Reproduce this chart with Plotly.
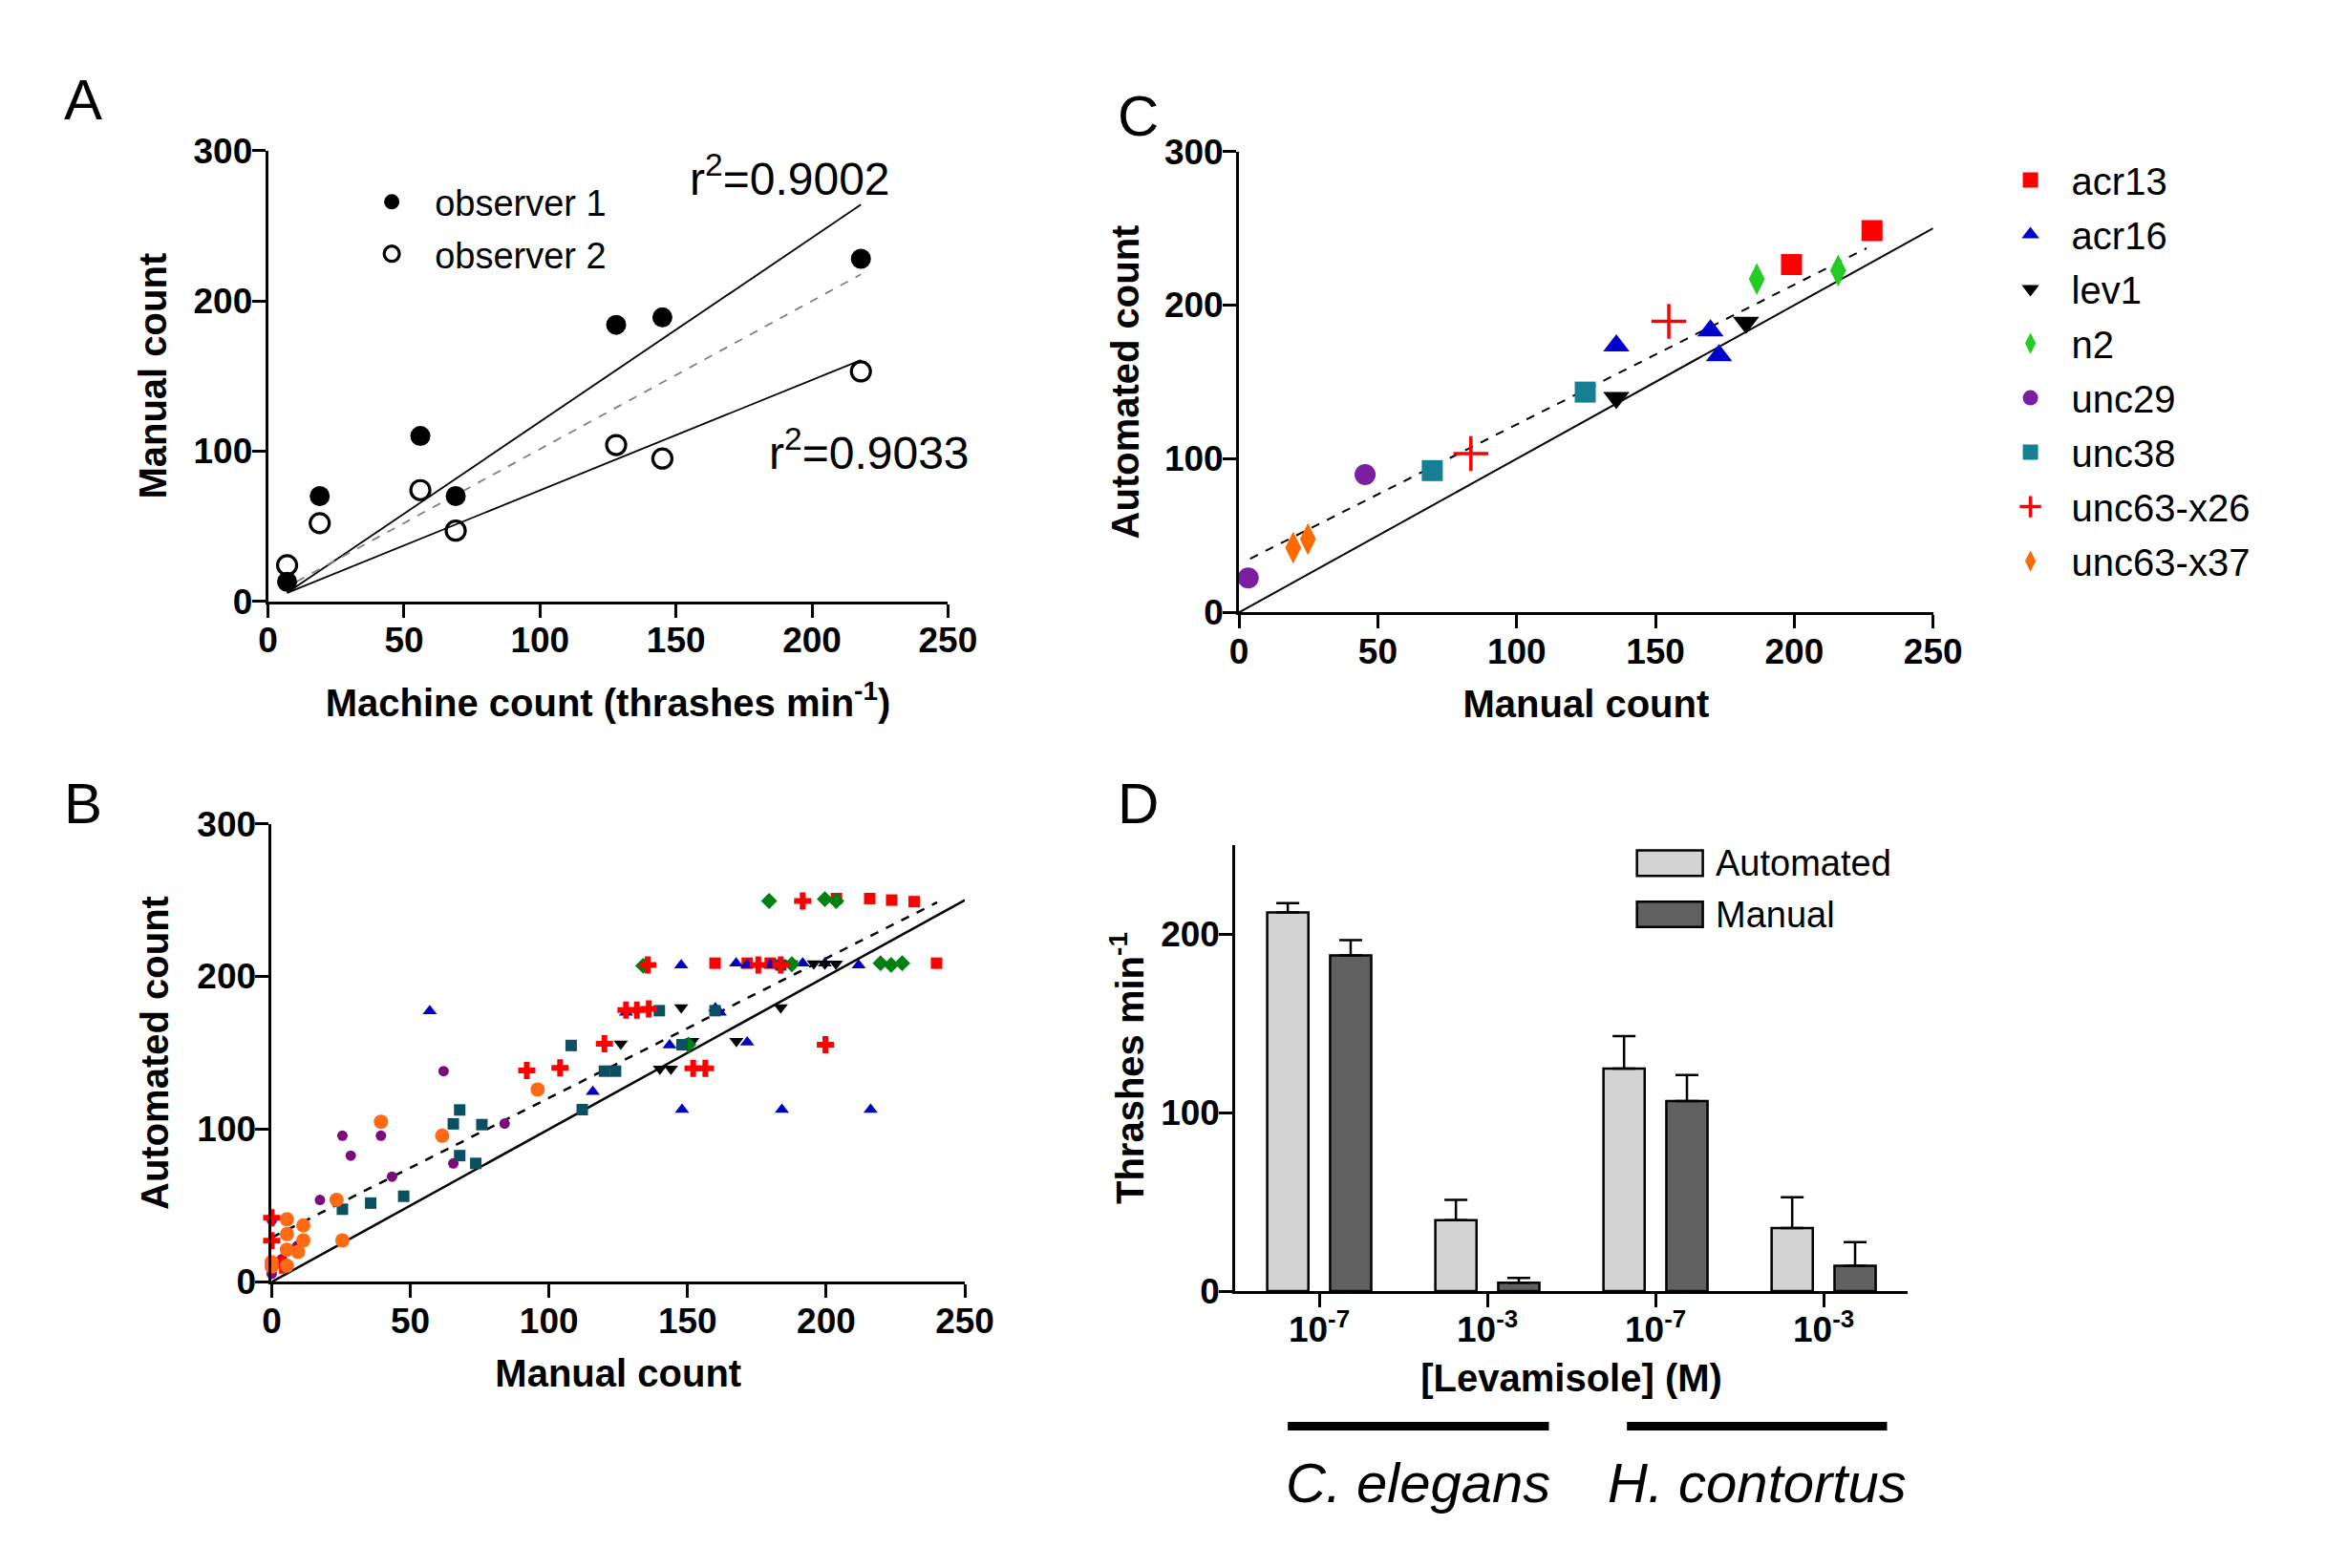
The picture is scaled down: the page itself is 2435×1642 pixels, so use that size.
import plotly.graph_objects as go

FONT = "Liberation Sans, Arial, sans-serif"

# ---- panel A: machine count vs manual count, two observers
machine = [7, 19, 56, 69, 128, 145, 218]
observer1 = [13, 70, 110, 70, 184, 189, 228]
observer2 = [24, 52, 74, 47, 104, 95, 153]
fit_x = [7, 218]
fit_obs1 = [5.6, 264]
fit_obs2 = [5.6, 160.5]
fit_mean_x = [5, 218]
fit_mean = [7.7, 217.6]

# ---- panel B: automated vs manual count, all worms
b_acr13_x = [203.7, 215.7, 223.6, 231.7, 159.9, 171.5, 179.8, 239.8]
b_acr13_y = [251, 251, 250, 249, 208.7, 208.7, 208.7, 208.7]
b_acr16_x = [57, 147.7, 167.5, 171.5, 179.8, 191.5, 199.5, 211.7, 127.8, 160, 161.6,
             143.5, 171.5, 115.8, 148, 184, 216]
b_acr16_y = [177.4, 207.3, 208.7, 207.5, 207.5, 208.7, 208.7, 207.3, 176.5, 179.3, 176.5,
             155, 156.9, 124.6, 112.8, 112.8, 112.8]
b_lev1_x = [187.4, 195.5, 199.5, 203.5, 147.7, 183.6, 125.9, 151.7, 167.6, 140, 144]
b_lev1_y = [208.5, 208.5, 208.3, 208.3, 179.7, 179.7, 156, 157.7, 157.7, 139.6, 139.6]
b_n2_x = [179.4, 199.5, 203.6, 134, 187.6, 219.6, 223.4, 227.4, 150.3]
b_n2_y = [249.4, 250.6, 249.4, 207, 208, 208.7, 207.6, 208.7, 155.3]
b_unc29_x = [62, 84, 25.5, 39.4, 28.5, 65.5, 43.4, 17.4, 0, 9.2, 3.7, 0]
b_unc29_y = [138, 103.7, 95.7, 95.7, 82.7, 77.6, 68.9, 53.7, 40.5, 23.5, 15, 5.3]
b_unc38_x = [139.8, 159.9, 108, 148, 183.6, 120, 124, 112, 67.8, 65.5, 75.8, 67.8, 73.6,
             47.6, 35.7, 25.5]
b_unc38_y = [177.6, 177.6, 154.8, 155.3, 207.5, 138, 138, 112.8, 112.6, 103.5, 103, 82.7,
             77.6, 56.1, 51.6, 47.6]
b_x26_x = [191.5, 135.6, 175.5, 183.6, 127.8, 131.7, 136, 120, 199.7, 92, 104, 152, 156.4,
           0, 0, 3.7]
b_x26_y = [249.4, 207.6, 207.6, 207.6, 178, 178, 178.7, 156, 155.3, 138.5, 140.2, 139.8,
           139.8, 42, 27, 11]
b_x37_x = [95.9, 39.4, 61.5, 23.4, 25.5, 5.5, 11.4, 5.5, 11.4, 5.5, 9.5, 0, 0, 5.5]
b_x37_y = [126, 104.9, 95.7, 53.7, 27.2, 41, 37, 31.3, 27.2, 21.1, 19.7, 13, 10, 10.6]
b_line_x = [0, 250]
b_line_y = [0, 250]
b_fit_x = [0, 240]
b_fit_y = [29, 248.5]

# ---- panel C: strain means
c_acr13_x, c_acr13_y = [199, 228], [226.4, 248.5]
c_acr16_x, c_acr16_y = [135.9, 169.8, 172.9], [173.6, 183.4, 167.2]
c_lev1_x, c_lev1_y = [135.9, 182.6], [139.8, 188.7]
c_n2_x, c_n2_y = [186.5, 215.8], [217, 222.5]
c_unc29_x, c_unc29_y = [45.4, 3.3], [89.7, 22.4]
c_unc38_x, c_unc38_y = [69.6, 124.7], [92.3, 143.4]
c_x26_x, c_x26_y = [83.5, 154.8], [103.4, 189.5]
c_x37_x, c_x37_y = [19.5, 24.8], [42.2, 47.8]
c_line_x = [0, 250]
c_line_y = [0, 250]
c_fit_x = [4, 226]
c_fit_y = [35, 237]

# ---- panel D: levamisole response
conc_pos = [0, 1, 2, 3]
conc_labels = ["10<sup>-7</sup>", "10<sup>-3</sup>", "10<sup>-7</sup>", "10<sup>-3</sup>"]
auto_mean = [212.3, 39.7, 124.7, 35.3]
auto_sem = [5.2, 11.5, 18.3, 17.3]
manual_mean = [188.2, 4.7, 106.6, 14.2]
manual_sem = [8.5, 2.7, 14.5, 13.2]
species = ["C. elegans", "H. contortus"]

fig = go.Figure()

# A
fig.add_trace(go.Scatter(x=fit_x, y=fit_obs1, mode="lines", line=dict(color="black", width=1.8),
                         showlegend=False, xaxis="x", yaxis="y"))
fig.add_trace(go.Scatter(x=fit_x, y=fit_obs2, mode="lines", line=dict(color="black", width=1.8),
                         showlegend=False, xaxis="x", yaxis="y"))
fig.add_trace(go.Scatter(x=fit_mean_x, y=fit_mean, mode="lines",
                         line=dict(color="#808080", width=1.8, dash="dash"),
                         showlegend=False, xaxis="x", yaxis="y"))
fig.add_trace(go.Scatter(x=machine, y=observer1, mode="markers", name="observer 1",
                         marker=dict(symbol="circle", size=21, color="black"),
                         legend="legend2", legendgroup="o1", cliponaxis=False,
                         xaxis="x", yaxis="y"))
fig.add_trace(go.Scatter(x=machine, y=observer2, mode="markers", name="observer 2",
                         marker=dict(symbol="circle-open", size=20, color="black",
                                     line=dict(width=3.2)),
                         legend="legend2", legendgroup="o2", cliponaxis=False,
                         xaxis="x", yaxis="y"))

# B
fig.add_trace(go.Scatter(x=b_line_x, y=b_line_y, mode="lines", line=dict(color="black", width=2.5),
                         showlegend=False, xaxis="x2", yaxis="y2"))
fig.add_trace(go.Scatter(x=b_fit_x, y=b_fit_y, mode="lines",
                         line=dict(color="black", width=2.5, dash="dash"),
                         showlegend=False, xaxis="x2", yaxis="y2"))
b_sets = [
    (b_acr13_x, b_acr13_y, "square", "#ff0000", 12),
    (b_acr16_x, b_acr16_y, "triangle-up", "#0000c0", 13),
    (b_lev1_x, b_lev1_y, "triangle-down", "#000000", 13),
    (b_n2_x, b_n2_y, "diamond", "#007f12", 13),
    (b_unc29_x, b_unc29_y, "circle", "#7d0a7d", 11),
    (b_unc38_x, b_unc38_y, "square", "#0b5060", 12),
    (b_x26_x, b_x26_y, "cross", "#ff0000", 15),
    (b_x37_x, b_x37_y, "circle", "#ff6a13", 15),
]
for bx, by, sym, col, sz in b_sets:
    fig.add_trace(go.Scatter(x=bx, y=by, mode="markers",
                             marker=dict(symbol=sym, size=sz, color=col),
                             showlegend=False, cliponaxis=False, xaxis="x2", yaxis="y2"))

# C
fig.add_trace(go.Scatter(x=c_line_x, y=c_line_y, mode="lines", line=dict(color="black", width=2),
                         showlegend=False, xaxis="x3", yaxis="y3"))
fig.add_trace(go.Scatter(x=c_fit_x, y=c_fit_y, mode="lines",
                         line=dict(color="black", width=2, dash="dash"),
                         showlegend=False, xaxis="x3", yaxis="y3"))
c_sets = [
    ("acr13", c_acr13_x, c_acr13_y, "square", "#ff0000", 22),
    ("acr16", c_acr16_x, c_acr16_y, "triangle-up", "#0000cc", 24),
    ("lev1", c_lev1_x, c_lev1_y, "triangle-down", "#000000", 24),
    ("n2", c_n2_x, c_n2_y, "diamond-tall", "#22cc22", 24),
    ("unc29", c_unc29_x, c_unc29_y, "circle", "#7b1fa2", 22),
    ("unc38", c_unc38_x, c_unc38_y, "square", "#167f94", 22),
    ("unc63-x26", c_x26_x, c_x26_y, "cross-thin-open", "#ff0000", 26),
    ("unc63-x37", c_x37_x, c_x37_y, "diamond-tall", "#ff6a00", 24),
]
for nm, cx, cy, sym, col, sz in c_sets:
    mk = dict(symbol=sym, size=sz, color=col)
    if sym == "cross-thin-open":
        mk["line"] = dict(width=3.5, color=col)
    fig.add_trace(go.Scatter(x=cx, y=cy, mode="markers", name=nm, marker=mk,
                             legend="legend", legendgroup=nm, cliponaxis=False,
                             xaxis="x3", yaxis="y3"))

# D
fig.add_trace(go.Bar(x=conc_pos, y=auto_mean, name="Automated",
                     marker=dict(color="#d3d3d3", line=dict(color="black", width=2.5)),
                     error_y=dict(type="data", symmetric=False, array=auto_sem,
                                  arrayminus=[0] * 4, color="black", thickness=2.5, width=12),
                     showlegend=False, xaxis="x4", yaxis="y4"))
fig.add_trace(go.Bar(x=conc_pos, y=manual_mean, name="Manual",
                     marker=dict(color="#606060", line=dict(color="black", width=2.5)),
                     error_y=dict(type="data", symmetric=False, array=manual_sem,
                                  arrayminus=[0] * 4, color="black", thickness=2.5, width=12),
                     showlegend=False, xaxis="x4", yaxis="y4"))

tick_font = dict(family=FONT, size=37, color="black", weight="bold")
title_font = dict(family=FONT, size=40, color="black", weight="bold")


def ax(**kw):
    base = dict(showline=True, linecolor="black", linewidth=3, ticks="outside", ticklen=14,
                tickwidth=2.5, tickcolor="black", showgrid=False, zeroline=False,
                ticklabelstandoff=-8, tickfont=tick_font, title_font=title_font)
    base.update(kw)
    return base


fig.update_layout(
    width=2435, height=1642,
    margin=dict(l=0, r=0, t=0, b=0),
    paper_bgcolor="white", plot_bgcolor="white",
    font=dict(family=FONT, color="black"),
    barmode="group", bargap=0.252, bargroupgap=0.345,
    xaxis=ax(domain=[0.1097, 0.4070], range=[0, 250], dtick=50, anchor="y",
             title=dict(text="Machine count (thrashes min<sup>-1</sup>)", standoff=32)),
    yaxis=ax(domain=[0.6242, 0.9190], range=[0, 300], dtick=100, anchor="x",
             title=dict(text="Manual count", standoff=16)),
    xaxis2=ax(domain=[0.1113, 0.4144], range=[0, 250], dtick=50, anchor="y2",
              title=dict(text="Manual count", standoff=22)),
    yaxis2=ax(domain=[0.1790, 0.4787], range=[0, 300], dtick=100, anchor="x2",
              title=dict(text="Automated count", standoff=18)),
    xaxis3=ax(domain=[0.5343, 0.8378], range=[0, 250], dtick=50, anchor="y3",
              title=dict(text="Manual count", standoff=22)),
    yaxis3=ax(domain=[0.6169, 0.9184], range=[0, 300], dtick=100, anchor="x3",
              title=dict(text="Automated count", standoff=14)),
    xaxis4=ax(domain=[0.5326, 0.8267], range=[-0.5, 3.5], tickvals=conc_pos,
              ticktext=conc_labels, anchor="y4", linewidth=2.5, tickwidth=2.5,
              title=dict(text="[Levamisole] (M)", standoff=17)),
    yaxis4=ax(domain=[0.1730, 0.4647], range=[0, 250], tickvals=[0, 100, 200], anchor="x4",
              linewidth=2.5, tickwidth=2.5,
              title=dict(text="Thrashes min<sup>-1</sup>", standoff=6)),
    legend=dict(x=0.8624, xanchor="left", y=0.920, yanchor="top", bgcolor="rgba(0,0,0,0)",
                font=dict(family=FONT, size=40, color="black"), tracegroupgap=2,
                itemwidth=76),
    legend2=dict(x=0.145, xanchor="left", y=0.905, yanchor="top", bgcolor="rgba(0,0,0,0)",
                 font=dict(family=FONT, size=38, color="black"), tracegroupgap=2,
                 itemwidth=80),
)

annots = [
    dict(text="A", x=0.0287, y=0.9525),
    dict(text="B", x=0.0287, y=0.492),
    dict(text="C", x=0.49, y=0.9415),
    dict(text="D", x=0.49, y=0.492),
]
for a in annots:
    fig.add_annotation(text=a["text"], x=a["x"], y=a["y"], xref="paper", yref="paper",
                       xanchor="center", yanchor="middle", showarrow=False,
                       font=dict(family=FONT, size=60, color="black"))

fig.add_annotation(text="r<sup>2</sup>=0.9002", x=192, y=283.5, xref="x", yref="y",
                   xanchor="center", yanchor="middle", showarrow=False,
                   font=dict(family=FONT, size=48, color="black"))
fig.add_annotation(text="r<sup>2</sup>=0.9033", x=221, y=100.8, xref="x", yref="y",
                   xanchor="center", yanchor="middle", showarrow=False,
                   font=dict(family=FONT, size=48, color="black"))

# legend keys for panel D
key_fill = ["#d3d3d3", "#606060"]
key_names = ["Automated", "Manual"]
key_y = [0.4529, 0.4194]
for fill, nm, yc in zip(key_fill, key_names, key_y):
    fig.add_shape(type="rect", xref="paper", yref="paper", x0=0.7083, x1=0.7371,
                  y0=yc - 0.0083, y1=yc + 0.0083, fillcolor=fill,
                  line=dict(color="black", width=2.5))
    fig.add_annotation(text=nm, x=0.7418, y=yc, xref="paper", yref="paper", xanchor="left",
                       yanchor="middle", showarrow=False,
                       font=dict(family=FONT, size=38, color="black"))

# species bars under panel D
spans = [(-0.187, 1.366), (1.83, 3.377)]
for (s0, s1), sp in zip(spans, species):
    fig.add_shape(type="line", xref="x4", yref="paper", x0=s0, x1=s1, y0=0.0847, y1=0.0847,
                  line=dict(color="black", width=9))
    fig.add_annotation(text=sp, x=(s0 + s1) / 2, y=0.048, xref="x4", yref="paper",
                       xanchor="center", yanchor="middle", showarrow=False,
                       font=dict(family=FONT, size=58, color="black", style="italic"))

fig.write_html("out.html")
